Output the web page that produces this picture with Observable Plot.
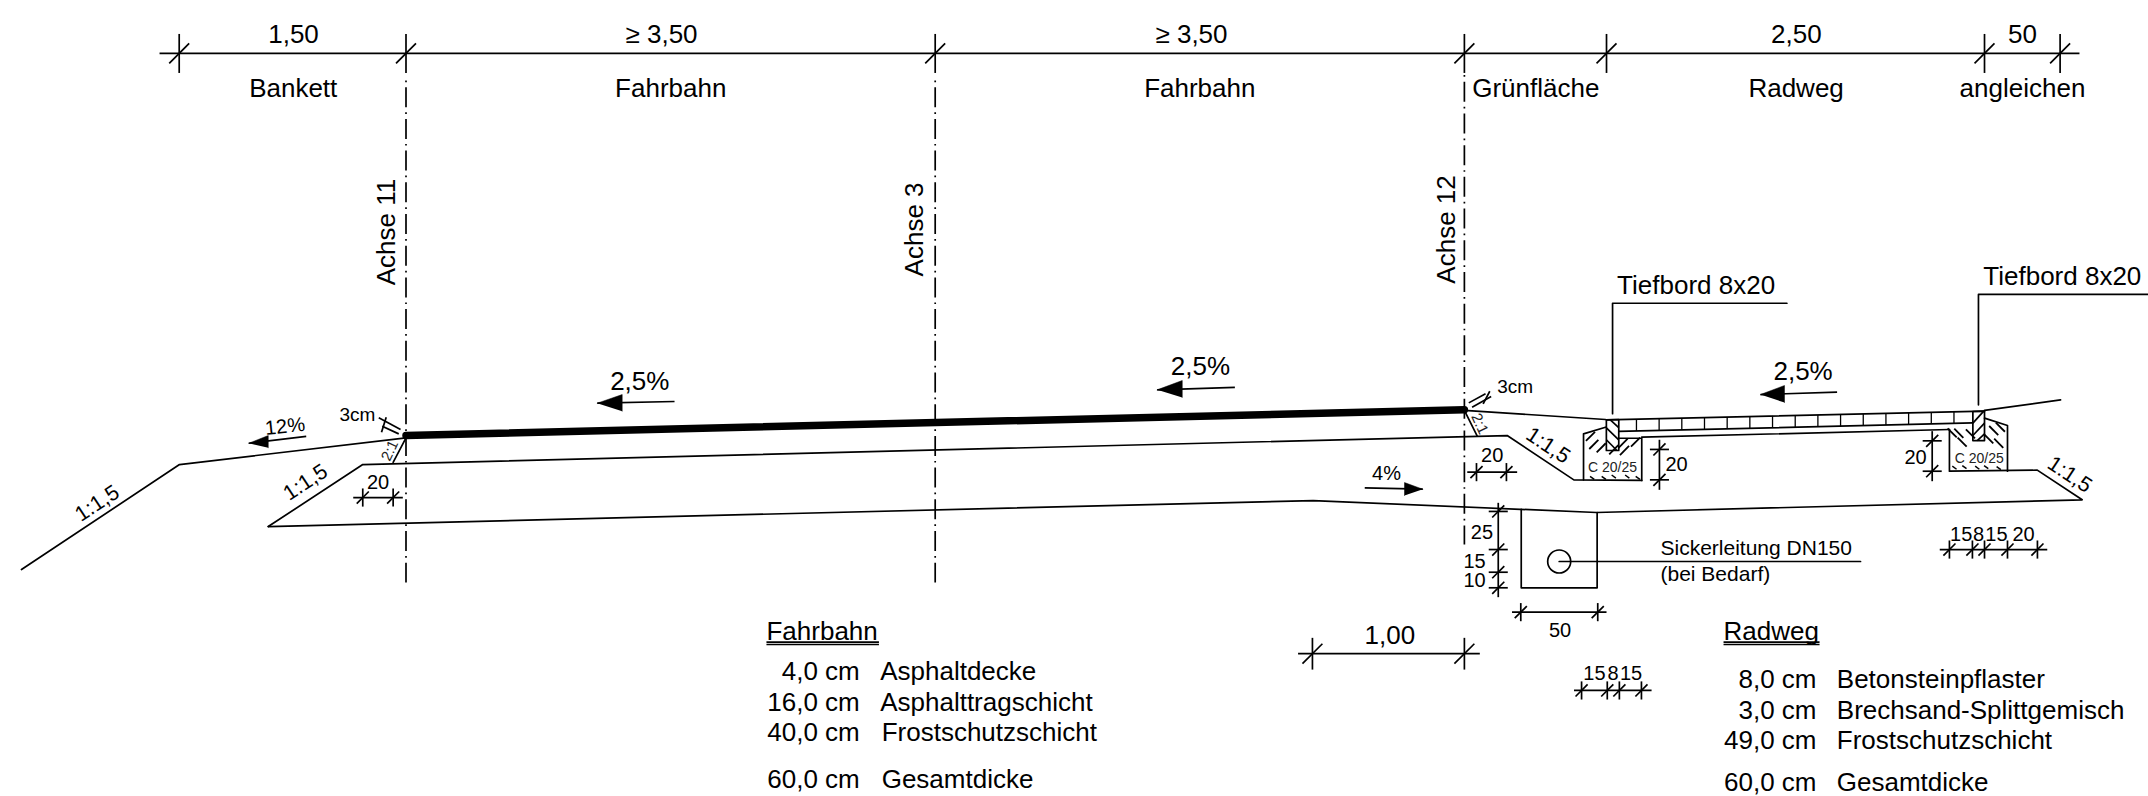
<!DOCTYPE html>
<html lang="de"><head><meta charset="utf-8"><title>Regelquerschnitt</title>
<style>html,body{margin:0;padding:0;background:#fff}svg{display:block}</style>
<script src="https://cdn.jsdelivr.net/npm/d3@7"></script>
<script src="https://cdn.jsdelivr.net/npm/@observablehq/plot@0.6"></script>
</head><body><div id="chart"></div>
<script>
// All geometry: [station in cm from Achse 11, elevation in cm]
const shoulder = [[-254.3,-87.3],[-149.8,-17.9],[0,-0.2]];
const asphalt = [[0,1.3],[700,18.4]];
const greenSurface = [[700,17.9],[793.3,11.9]];
const paverTop = [[793.9,11.7],[1044,17.4]];
const rightSurface = [[1044,17.9],[1094.3,24.9]];
const paverBottom = [[802.1,4.0],[1036.3,9.7]];
const sandBottom = [[817.3,0.2],[1020.8,5.3]];
const subgradeTop = [[-91.1,-58.9],[-28.6,-17.9],[728.3,1.3],[772.4,-28.0],[817.3,-28.4]];
const subgradeBottom = [[-91.1,-58.9],[600,-41.7],[787.4,-49.6],[1108.6,-41.2],[1078.9,-21.6],[1020.8,-22.3],[1020.8,5.3]];
const concreteLeftA = [[778.8,-28.0],[778.8,2.4],[793.3,6.8]];
const concreteLeftB = [[802.1,-0.5],[817.3,-0.5],[817.3,-28.4]];
const concreteRight = [[1044,12.8],[1059.2,7.9],[1059.2,-22.3]];
const curbLeft = [[793.9,11.7],[802.1,11.9],[802.1,-8.6],[793.9,-8.6],[793.9,11.7]];
const curbRight = [[1036.3,17.2],[1044,17.4],[1044,-2],[1036.3,-2],[1036.3,17.2]];
const trench = [[737.6,-47.6],[737.6,-99.4],[787.8,-99.4],[787.8,-49.6]];
const leaderLeft = [[798,15.7],[798,88.8],[913.3,88.8]];
const leaderRight = [[1040,21.6],[1040,94.6],[1152.4,94.6]];
const pipeLeader = [[762.7,-82],[962,-82]];
const pipe = [[762.7,-82]];
const slope21Left = [[0,-0.2],[-8.5,-16.5]];
const slope21Right = [[700,17.9],[708.5,0.9]];

// axes: [station, top, bottom]
const axes = [[0,236.1,-95.9],[350,236.1,-95.9],[700,239.7,-70.8]];

// paver joints: [station, top, bottom]
const joints = [[813.8,12.2,4.3],[828.8,12.5,4.7],[843.8,12.9,5.0],[858.8,13.2,5.4],[873.8,13.6,5.8],[888.8,13.9,6.1],[903.8,14.3,6.5],[918.8,14.6,6.9],[933.8,14.9,7.2],[948.8,15.3,7.6],[963.8,15.6,8.0],[978.8,16.0,8.3],[993.8,16.3,8.7],[1008.8,16.6,9.0],[1023.8,17.0,9.4]];

// segments: [x1,y1,x2,y2]
const curbHatch = [[796.5,11.7,802.1,6.5],[793.9,6.4,802.1,-1.5],[793.9,-1.5,800.9,-8.6],[1036.3,9.5,1043.5,17.4],[1036.3,1.3,1044,9.5],[1039.2,-2,1044,2.4]];
const thicknessMarks = [[-18,13,-3.6,5.3],[-15.7,7.5,-4.8,2.4],[-16.2,3.5,-13.1,13.4],[702.9,22.9,714,28.9],[705.1,20,717.7,27.1],[712.4,22.3,716.8,30.6]];
const underlines = [[238.4,-135.3,312.8,-135.3],[238.4,-136.9,312.8,-136.9],[871.4,-135.3,934.9,-135.3],[871.4,-136.9,934.9,-136.9]];

// concrete texture: centres
const concreteRising = [[783.4,0.7],[785.6,-4.6],[790.5,-6.8],[805,-3.8],[813.2,-3.1],[805.9,-8.6],[798.8,-8.1]];
const concreteFalling = [[1022.6,3.1],[1029.2,-3.1],[1027,2.8],[1034.7,2.4],[1046.8,-0.9],[1050.1,4.6],[1054.5,6.8],[1053.4,-3.8]];
const concreteGrain = [[784.5,-26.7],[792.2,-26.7],[798.8,-25.8],[807.7,-25.8],[814.7,-26.7],[1024.1,-20],[1030.7,-19.6],[1039.2,-20],[1045.1,-19.6],[1053.4,-20.3]];

// dimension lines
const dimTop = {y:254, from:-163, to:1106.8, ticks:[-150,0,350,700,794,1044,1094]};
const dimWide = {y:-143, from:590, to:710.2, ticks:[599.5,700]};
const dimsH = [
  {y:-39.7, from:-34.9, to:-2.1, ticks:[-28.6,-8.5]},
  {y:-22.9, from:701.9, to:734.9, ticks:[708,727.8]},
  {y:-115.5, from:731.5, to:794, ticks:[737.3,788.2]},
  {y:-167.3, from:772.5, to:823.8, ticks:[777.5,794.5,802.5,817.1]},
  {y:-74.1, from:1014.4, to:1085.5, ticks:[1020.8,1036,1044,1059.2,1079]}
];
const dimsV = [
  {x:829, from:-1.5, to:-34.6, ticks:[-7.9,-28]},
  {x:1009.4, from:4.2, to:-28.9, ticks:[-2.2,-22.3]},
  {x:722.4, from:-43.2, to:-105.6, ticks:[-48.9,-74.1,-89.1,-99.4]}
];

// slope arrows: shaft [x1,y1,x2,y2] and head triangle
const arrowShafts = [[177.6,23.8,126.5,22.7],[548.2,33.1,496.8,31.5],[946.5,30,895.8,28.4],[634.1,-33.3,672.5,-34.2],[-66,0.7,-104,-3.8]];
const arrowHeads = [
  [[126.5,22.7],[143,28.4],[143,17.4]],
  [[496.8,31.5],[513.4,37.7],[513.4,26.5]],
  [[895.8,28.4],[911.7,34.4],[911.7,23.1]],
  [[672.5,-34.2],[660.4,-29.8],[660.4,-38.4]],
  [[-104,-3.8],[-91.1,1.3],[-91.1,-6.8]]
];

// labels: [text, x, y]
const labelsLarge = [
  ["1,50",-74.4,260.8],["≥ 3,50",169,260.8],["≥ 3,50",519.5,260.8],["2,50",919.6,260.8],["50",1069.1,260.8],
  ["Bankett",-74.6,225.5],["Fahrbahn",175.1,225.5],["Fahrbahn",525,225.5],["Grünfläche",747.2,225.5],["Radweg",919.4,225.5],["angleichen",1069.1,225.5],
  ["2,5%",154.6,31.1],["2,5%",525.4,41.5],["2,5%",924,38.2],["1,00",650.7,-136.4]
];
const labelsStart = [
  ["Tiefbord 8x20",801,95],["Tiefbord 8x20",1043.2,101],
  ["Fahrbahn",238.4,-133.8],["Radweg",871.4,-133.8],
  ["Asphaltdecke",313.6,-160.7],["Asphalttragschicht",313.6,-181],["Frostschutzschicht",314.6,-200.9],["Gesamtdicke",314.6,-231.5],
  ["Betonsteinpflaster",946.3,-165.5],["Brechsand-Splittgemisch",946.3,-186],["Frostschutzschicht",946.3,-205.9],["Gesamtdicke",946.3,-233.6]
];
const labelsEnd = [
  ["4,0 cm",300.1,-160.7],["16,0 cm",300.1,-181],["40,0 cm",300.1,-200.9],["60,0 cm",300.1,-231.5],
  ["8,0 cm",932.9,-165.5],["3,0 cm",932.9,-186],["49,0 cm",932.9,-205.9],["60,0 cm",932.9,-233.6]
];
const labelsAxes = [["Achse 11",-7.5,135.9],["Achse 3",342,137.6],["Achse 12",693.5,137.6]];
const labelsDim = [
  ["20",-18.5,-33.9],["20",718.4,-16.3],["20",840.3,-22.3],["20",998.4,-17.4],
  ["25",711.6,-67],["15",706.7,-86.2],["10",706.7,-99],["50",763.3,-132.1],
  ["15",786,-160.7],["8",798.3,-160.7],["15",810.2,-160.7],
  ["15",1028.6,-68.6],["8",1040,-68.6],["15",1051.9,-68.6],["20",1069.8,-68.6],["4%",648.5,-28.4]
];
const labelsThickness = [["3cm",-44,11.2],["3cm",721.7,29.3]];
const labelsPipe = [["Sickerleitung DN150",829.7,-78],["(bei Bedarf)",829.7,-94.6]];
const labelsConcrete = [["C 20/25",798,-22.5],["C 20/25",1040.5,-17]];
// rotated: [text, x, y, angle]
const labelsRatio = [["1:1,5",-204.2,-43.5,-33.5],["1:1,5",-66.5,-29.6,-33.5],["1:1,5",755.4,-5.3,33.5],["1:1,5",1100.4,-24.5,33.5]];
const labelsSteep = [["2:1",-10.7,-8.6,-65],["2:1",710.2,9.1,65]];
const labelSlope12 = [["12%",-80,7.3,-6]];

const font = "'Liberation Sans', Arial, sans-serif";
const ink = "#000";
const W = 1.7;
const path = (pts, o={}) => Plot.line(pts,{x:d=>d[0],y:d=>d[1],stroke:ink,strokeWidth:W,...o});
const seg = (rows, o={}) => Plot.link(rows,{x1:d=>d[0],y1:d=>d[1],x2:d=>d[2],y2:d=>d[3],stroke:ink,strokeWidth:W,...o});
const label = (rows,size,anchor="middle",o={}) => Plot.text(rows,{text:d=>d[0],x:d=>d[1],y:d=>d[2],fontSize:size,fontFamily:font,textAnchor:anchor,lineAnchor:"bottom",fill:ink,...o});
const turned = (rows,size,o={}) => rows.map(r=>label([r],size,"middle",{rotate:r[3],lineAnchor:"middle",...o}));

const hLines = d => [d.from,d.y,d.to,d.y];
const hTicks = (d,h) => d.ticks.map(x=>[x,d.y+h,x,d.y-h]);
const hSlash = (d,s) => d.ticks.map(x=>[x-s,d.y-s,x+s,d.y+s]);
const vLines = d => [d.x,d.from,d.x,d.to];
const vTicks = (d,h) => d.ticks.map(y=>[d.x-h,y,d.x+h,y]);
const vSlash = (d,s) => d.ticks.map(y=>[d.x-s,y-s,d.x+s,y+s]);

const chart = Plot.plot({
  width:2148, height:796, margin:0,
  style:{background:"#fff",overflow:"hidden"},
  x:{domain:[-268.19,1152.46],range:[0,2148],axis:null},
  y:{domain:[289.02,-237.43],range:[0,796],axis:null},
  marks:[
    Plot.link(axes,{x1:d=>d[0],y1:d=>d[1],x2:d=>d[0],y2:d=>d[2],stroke:ink,strokeWidth:W,strokeDasharray:"1.7,5,20,5"}),
    path(shoulder), path(asphalt,{strokeWidth:7.5}), path(greenSurface), path(paverTop), path(rightSurface),
    path(paverBottom), path(sandBottom), path(subgradeTop), path(subgradeBottom),
    path(concreteLeftA), path(concreteLeftB), path(concreteRight),
    path(curbLeft), path(curbRight), path(trench), path(leaderLeft), path(leaderRight), path(pipeLeader),
    path(slope21Left), path(slope21Right),
    Plot.dot(pipe,{x:d=>d[0],y:d=>d[1],r:11.5,stroke:ink,strokeWidth:W,fill:"none"}),
    Plot.link(joints,{x1:d=>d[0],y1:d=>d[1],x2:d=>d[0],y2:d=>d[2],stroke:ink,strokeWidth:1.3}),
    seg(curbHatch), seg(thicknessMarks), seg(underlines),
    seg(concreteRising.map(d=>[d[0]-3,d[1]-3,d[0]+3,d[1]+3]),{strokeWidth:1.8}),
    seg(concreteFalling.map(d=>[d[0]-3,d[1]+3,d[0]+3,d[1]-3]),{strokeWidth:1.8}),
    seg(concreteGrain.map(d=>[d[0]-1.4,d[1]+1,d[0]+1.4,d[1]-1]),{strokeWidth:1.5}),
    // dimension lines
    seg([hLines(dimTop),hLines(dimWide),...dimsH.map(hLines),...dimsV.map(vLines)]),
    seg([...hTicks(dimTop,12.9),...hTicks(dimWide,10.5),...dimsH.flatMap(d=>hTicks(d,6)),...dimsV.flatMap(d=>vTicks(d,6.3))]),
    seg([...hSlash(dimTop,6.6),...hSlash(dimWide,6.6),...dimsH.flatMap(d=>hSlash(d,4)),...dimsV.flatMap(d=>vSlash(d,4))]),
    // arrows
    seg(arrowShafts),
    ...arrowHeads.map(h=>Plot.line(h,{x:d=>d[0],y:d=>d[1],fill:ink,stroke:ink,strokeWidth:0.5})),
    // labels
    label(labelsLarge,26), label(labelsStart,26,"start"), label(labelsEnd,26,"end"),
    ...labelsAxes.map(r=>label([r],26,"middle",{rotate:-90})),
    label(labelsDim,20), label(labelsThickness,19,"start"), label(labelsPipe,21,"start"),
    label(labelsConcrete,14,"middle",{fill:"#222"}),
    ...turned(labelsRatio,21.5), ...turned(labelsSteep,15,{fill:"#222"}), ...turned(labelSlope12,20)
  ]
});
document.getElementById("chart").append(chart);
</script></body></html>
